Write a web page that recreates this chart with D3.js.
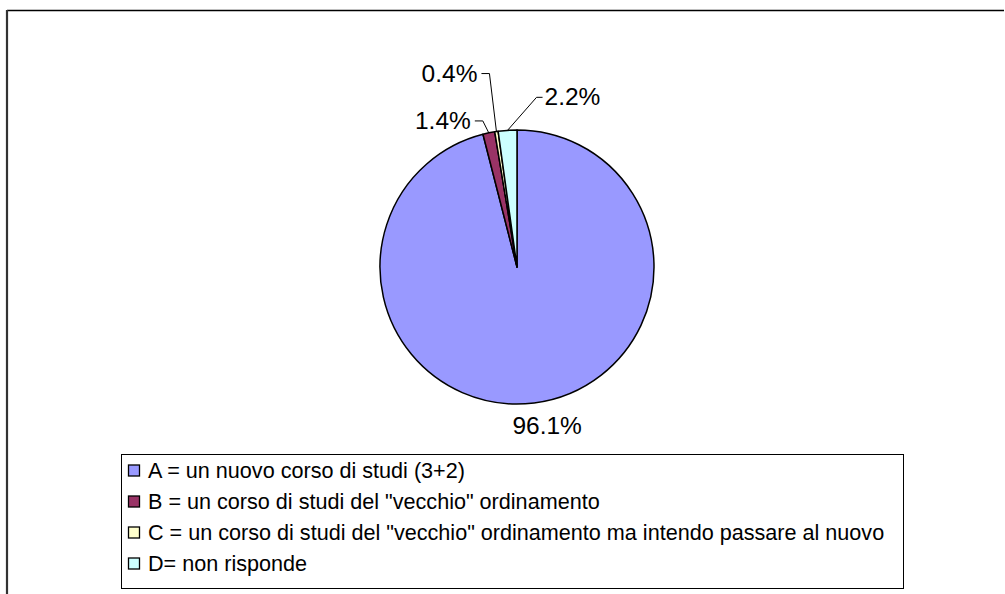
<!DOCTYPE html>
<html>
<head>
<meta charset="utf-8">
<script src="https://cdn.jsdelivr.net/npm/d3@7"></script>
<style>
  body { margin: 0; background: #fff; }
  svg { display: block; font-family: "Liberation Sans", Arial, sans-serif; }
</style>
</head>
<body>
<svg id="chart" width="1005" height="594"></svg>
<script>
// data
const categories = ["A", "B", "C", "D"];
const values = [96.1, 1.4, 0.4, 2.2];
const valueLabels = ["96.1%", "1.4%", "0.4%", "2.2%"];
const legendLabels = [
  "A = un nuovo corso di studi (3+2)",
  "B = un corso di studi del \"vecchio\" ordinamento",
  "C = un corso di studi del \"vecchio\" ordinamento ma intendo passare al nuovo",
  "D= non risponde"
];
const colors = ["#9999FF", "#993366", "#FFFFCC", "#CCFFFF"];

// label placement relative to each slice's edge midpoint (layout only)
const labelLayout = {
  A: { leader: false, dx: 13, dy: 31, anchor: "middle" },
  B: { leader: true, dx: -6, dy: -12, run: -8, anchor: "end" },
  C: { leader: true, dx: -7, dy: -58, run: -8, anchor: "end" },
  D: { leader: true, dx: 29, dy: -33, run: 6, anchor: "start" }
};

const svg = d3.select("#chart");

// outer chart frame (runs past the right/bottom of the window)
svg.append("line")
  .attr("x1", 7).attr("y1", 10.5).attr("x2", 1004).attr("y2", 10.5)
  .attr("stroke", "#000").attr("stroke-width", 1.5);
svg.append("line")
  .attr("x1", 7).attr("y1", 10).attr("x2", 7).attr("y2", 594)
  .attr("stroke", "#333").attr("stroke-width", 2.2);

const cx = 517, cy = 267, radius = 137;

const pie = d3.pie().sort(null).value(d => d.value);
const arcs = pie(categories.map((c, i) => ({ key: c, value: values[i], i })));

const arc = d3.arc().innerRadius(0).outerRadius(radius);
const edge = d3.arc().innerRadius(radius).outerRadius(radius);

const g = svg.append("g").attr("transform", `translate(${cx},${cy})`);

g.selectAll("path.slice")
  .data(arcs)
  .join("path")
  .attr("class", "slice")
  .attr("d", arc)
  .attr("fill", d => colors[d.data.i])
  .attr("stroke", "#000")
  .attr("stroke-width", 1.5)
  .attr("stroke-linejoin", "round");

const labelFont = 24.5;

arcs.forEach(d => {
  const lay = labelLayout[d.data.key];
  const [px, py] = edge.centroid(d);
  const ex = px + lay.dx, ey = py + lay.dy;
  if (lay.leader) {
    g.append("polyline")
      .attr("points", [[px, py], [ex, ey], [ex + lay.run, ey]].map(p => p.join(",")).join(" "))
      .attr("fill", "none")
      .attr("stroke", "#000")
      .attr("stroke-width", 1);
    const tx = ex + lay.run + (lay.run < 0 ? -4 : 2);
    g.append("text")
      .attr("x", tx).attr("y", ey + 8)
      .attr("text-anchor", lay.anchor)
      .attr("font-size", labelFont)
      .text(valueLabels[d.data.i]);
  } else {
    g.append("text")
      .attr("x", ex).attr("y", ey)
      .attr("text-anchor", lay.anchor)
      .attr("font-size", labelFont)
      .text(valueLabels[d.data.i]);
  }
});

// legend
const legX = 121, legY = 454, legW = 782, legH = 134;
const leg = svg.append("g");
leg.append("rect")
  .attr("x", legX + 0.5).attr("y", legY + 0.5)
  .attr("width", legW).attr("height", legH)
  .attr("fill", "#fff").attr("stroke", "#000").attr("stroke-width", 1);

const rowY = d3.scalePoint().domain(categories).range([470.5, 563.5]);

const rows = leg.selectAll("g.row")
  .data(categories)
  .join("g")
  .attr("class", "row")
  .attr("transform", d => `translate(0,${rowY(d)})`);

rows.append("rect")
  .attr("x", 128.5).attr("y", -5.5)
  .attr("width", 11).attr("height", 11)
  .attr("fill", (d, i) => colors[i])
  .attr("stroke", "#000").attr("stroke-width", 1.3);

rows.append("text")
  .attr("x", 148).attr("y", 7.5)
  .attr("font-size", 21.6)
  .text((d, i) => legendLabels[i]);
</script>
</body>
</html>
